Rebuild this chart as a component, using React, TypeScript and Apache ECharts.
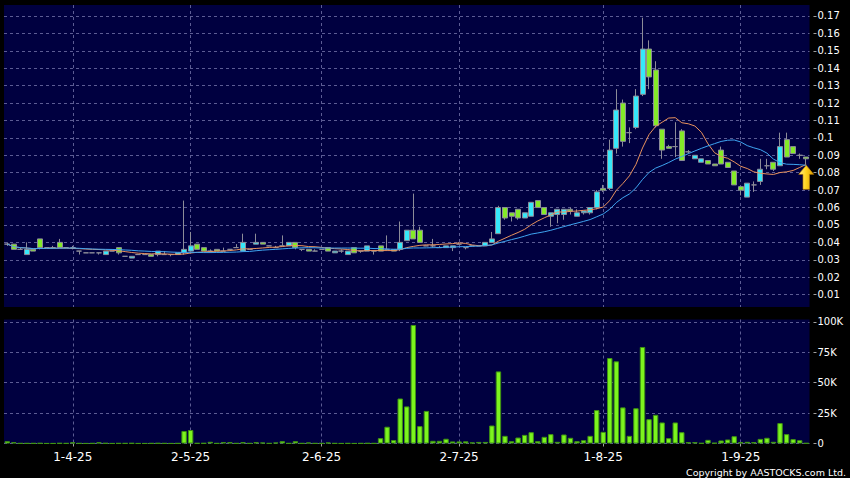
import React, { useEffect, useRef } from 'react';
import * as echarts from 'echarts';

const dates = [
  '18-3-25','19-3-25','20-3-25','21-3-25','24-3-25','25-3-25','26-3-25','27-3-25','28-3-25','31-3-25',
  '1-4-25','2-4-25','3-4-25','7-4-25','8-4-25','9-4-25','10-4-25','11-4-25','14-4-25','15-4-25',
  '16-4-25','17-4-25','22-4-25','23-4-25','24-4-25','25-4-25','28-4-25','30-4-25','2-5-25','6-5-25',
  '7-5-25','8-5-25','9-5-25','12-5-25','13-5-25','14-5-25','15-5-25','16-5-25','19-5-25','20-5-25',
  '21-5-25','22-5-25','23-5-25','26-5-25','27-5-25','28-5-25','29-5-25','30-5-25','2-6-25','3-6-25',
  '4-6-25','5-6-25','6-6-25','9-6-25','10-6-25','11-6-25','12-6-25','13-6-25','16-6-25','17-6-25',
  '18-6-25','19-6-25','20-6-25','23-6-25','24-6-25','25-6-25','26-6-25','27-6-25','30-6-25','2-7-25',
  '3-7-25','4-7-25','7-7-25','8-7-25','9-7-25','10-7-25','11-7-25','14-7-25','15-7-25','16-7-25',
  '17-7-25','18-7-25','21-7-25','22-7-25','23-7-25','24-7-25','25-7-25','28-7-25','29-7-25','30-7-25',
  '31-7-25','1-8-25','4-8-25','5-8-25','6-8-25','7-8-25','8-8-25','11-8-25','12-8-25','13-8-25',
  '14-8-25','15-8-25','18-8-25','19-8-25','20-8-25','21-8-25','22-8-25','25-8-25','26-8-25','27-8-25',
  '28-8-25','29-8-25','1-9-25','2-9-25','3-9-25','4-9-25','5-9-25','8-9-25','9-9-25','10-9-25',
  '11-9-25','12-9-25','15-9-25',
];

const tickLabels = ['1-4-25', '2-5-25', '2-6-25', '2-7-25', '1-8-25', '1-9-25'];

const opens = [
  0.039,0.039,0.036,0.033,0.036,0.042,0.037,0.037,0.040,0.037,
  0.037,0.035,0.034,0.034,0.034,0.033,0.035,0.037,0.032,0.031,
  0.033,0.033,0.033,0.033,0.033,0.033,0.033,0.034,0.035,0.039,
  0.037,0.035,0.036,0.035,0.036,0.037,0.035,0.036,0.039,0.040,
  0.038,0.037,0.038,0.038,0.040,0.036,0.036,0.035,0.036,0.037,
  0.034,0.035,0.033,0.037,0.035,0.035,0.035,0.038,0.036,0.036,
  0.036,0.041,0.047,0.047,0.038,0.038,0.037,0.037,0.037,0.039,
  0.037,0.038,0.038,0.038,0.040,0.045,0.060,0.057,0.059,0.054,
  0.055,0.064,0.060,0.055,0.056,0.056,0.059,0.055,0.057,0.057,
  0.060,0.071,0.071,0.094,0.120,0.103,0.106,0.125,0.151,0.139,
  0.105,0.095,0.095,0.104,0.092,0.088,0.086,0.087,0.085,0.093,
  0.086,0.081,0.072,0.066,0.073,0.075,0.084,0.086,0.084,0.099,
  0.095,0.090,0.089,
];

const highs = [
  0.040,0.039,0.037,0.040,0.036,0.042,0.037,0.038,0.042,0.037,
  0.038,0.035,0.034,0.034,0.034,0.035,0.035,0.037,0.032,0.032,
  0.033,0.033,0.033,0.035,0.035,0.033,0.034,0.064,0.046,0.039,
  0.037,0.036,0.036,0.037,0.036,0.039,0.045,0.036,0.045,0.040,
  0.038,0.038,0.044,0.040,0.040,0.036,0.036,0.036,0.036,0.037,
  0.035,0.036,0.035,0.037,0.035,0.038,0.035,0.038,0.044,0.036,
  0.052,0.047,0.068,0.049,0.038,0.042,0.038,0.038,0.038,0.040,
  0.037,0.038,0.038,0.040,0.046,0.061,0.060,0.057,0.059,0.057,
  0.063,0.064,0.060,0.057,0.059,0.059,0.060,0.059,0.058,0.060,
  0.070,0.073,0.099,0.128,0.122,0.106,0.128,0.169,0.156,0.144,
  0.105,0.096,0.109,0.105,0.093,0.090,0.088,0.087,0.085,0.095,
  0.086,0.081,0.072,0.074,0.075,0.088,0.088,0.086,0.103,0.103,
  0.095,0.091,0.089,
];

const lows = [
  0.038,0.036,0.036,0.033,0.035,0.036,0.037,0.037,0.037,0.037,
  0.036,0.033,0.034,0.034,0.033,0.033,0.035,0.033,0.032,0.031,
  0.033,0.033,0.032,0.032,0.033,0.032,0.033,0.033,0.035,0.036,
  0.035,0.034,0.035,0.035,0.036,0.037,0.035,0.036,0.039,0.039,
  0.038,0.037,0.038,0.038,0.036,0.035,0.035,0.035,0.036,0.035,
  0.034,0.034,0.033,0.034,0.034,0.035,0.033,0.035,0.036,0.035,
  0.035,0.041,0.042,0.040,0.038,0.037,0.037,0.037,0.035,0.039,
  0.036,0.038,0.038,0.038,0.040,0.045,0.053,0.052,0.053,0.054,
  0.055,0.060,0.056,0.049,0.051,0.053,0.056,0.055,0.056,0.056,
  0.059,0.069,0.070,0.091,0.095,0.097,0.105,0.124,0.128,0.106,
  0.088,0.094,0.089,0.087,0.091,0.088,0.086,0.085,0.084,0.085,
  0.083,0.073,0.067,0.066,0.069,0.073,0.082,0.081,0.084,0.089,
  0.091,0.088,0.085,
];

const closes = [
  0.039,0.036,0.036,0.036,0.035,0.037,0.037,0.037,0.037,0.037,
  0.037,0.035,0.034,0.034,0.034,0.035,0.035,0.034,0.032,0.032,
  0.033,0.033,0.032,0.035,0.033,0.033,0.034,0.036,0.038,0.036,
  0.035,0.035,0.035,0.035,0.036,0.037,0.040,0.036,0.040,0.039,
  0.038,0.037,0.038,0.040,0.037,0.036,0.035,0.035,0.036,0.035,
  0.035,0.035,0.035,0.034,0.035,0.038,0.035,0.035,0.036,0.035,
  0.040,0.047,0.042,0.040,0.038,0.038,0.037,0.038,0.038,0.039,
  0.037,0.038,0.038,0.040,0.042,0.060,0.054,0.055,0.054,0.057,
  0.063,0.060,0.056,0.057,0.059,0.059,0.058,0.057,0.058,0.060,
  0.069,0.070,0.093,0.116,0.098,0.103,0.124,0.151,0.135,0.107,
  0.093,0.094,0.095,0.087,0.092,0.090,0.088,0.085,0.084,0.085,
  0.083,0.073,0.070,0.074,0.073,0.082,0.084,0.082,0.095,0.089,
  0.091,0.090,0.088,
];

const volumes = [
  1900,1100,200,200,200,300,100,100,300,200,
  1000,200,100,200,1000,300,100,200,200,300,
  100,100,200,300,200,100,200,10300,11100,300,
  300,1400,200,1100,1100,200,1100,200,1100,800,
  200,800,1900,200,1900,200,800,200,200,800,
  200,100,200,100,200,300,200,4400,13800,2800,
  37000,30500,97500,14300,26800,2200,2200,3900,1700,1700,
  1800,900,1300,1300,14800,59300,6300,1900,4900,7100,
  9300,1900,5500,7700,1400,7400,4700,1900,2700,6300,
  27500,9600,70300,67600,29700,6300,29000,79400,20000,23600,
  17300,4400,17300,9300,1100,1100,300,3000,500,2500,
  3300,6000,1100,1400,1100,3800,4700,1400,16800,7700,
  3600,2700,300,
];

const priceTicks = [0.01,0.02,0.03,0.04,0.05,0.06,0.07,0.08,0.09,0.1,0.11,0.12,0.13,0.14,0.15,0.16,0.17];
const volumeTicks = [0, 25000, 50000, 75000, 100000];
const maShortDays = 10;
const maLongDays = 20;

function movingAverage(values: number[], n: number): number[] {
  return values.map((_, i) => {
    const start = Math.max(0, i - n + 1);
    const win = values.slice(start, i + 1);
    return +(win.reduce((a, b) => a + b, 0) / win.length).toFixed(5);
  });
}

const FONT = 'DejaVu Sans';

export default function App() {
  const ref = useRef<HTMLDivElement>(null);

  useEffect(() => {
    if (!ref.current) return;
    const chart = echarts.init(ref.current, undefined, { renderer: 'svg' });

    const candleData = opens.map((o, i) => [o, closes[i], lows[i], highs[i]]);
    const maShort = movingAverage(closes, maShortDays);
    const maLong = movingAverage(closes, maLongDays);
    const isTick = (_i: number, v: string) => tickLabels.includes(v);
    const splitStyle = { color: '#5c5c94', type: [3, 3] as number[], width: 1 };
    const gridBg = '#000040';

    const option: any = {
      animation: false,
      backgroundColor: '#000000',
      textStyle: { fontFamily: FONT },
      grid: [
        { left: 4, right: 40.5, top: 5, height: 302, show: true, backgroundColor: gridBg, borderWidth: 0 },
        { left: 4, right: 40.5, top: 319.5, height: 124, show: true, backgroundColor: gridBg, borderWidth: 0 },
      ],
      xAxis: [
        {
          type: 'category', gridIndex: 0, data: dates, boundaryGap: true,
          axisLine: { show: false }, axisTick: { show: false }, axisLabel: { show: false },
          splitLine: { show: true, alignWithLabel: true, interval: isTick, lineStyle: splitStyle },
        },
        {
          type: 'category', gridIndex: 1, data: dates, boundaryGap: true, offset: 3,
          axisLine: { show: false },
          axisTick: { show: true, alignWithLabel: true, interval: isTick, length: 3, lineStyle: { color: '#a0a0a0' } },
          axisLabel: { interval: isTick, color: '#ffffff', fontSize: 12, margin: 4, fontFamily: FONT },
          splitLine: { show: true, alignWithLabel: true, interval: isTick, lineStyle: splitStyle },
        },
      ],
      yAxis: [
        {
          type: 'value', gridIndex: 0, position: 'right', min: 0.0029, max: 0.1763,
          splitNumber: 17, minInterval: 0.01, maxInterval: 0.01, offset: 4,
          axisLine: { show: false },
          axisTick: { show: true, length: 3, customValues: priceTicks, lineStyle: { color: '#a0a0a0' } },
          axisLabel: {
            customValues: priceTicks, color: '#ffffff', fontSize: 10, margin: 4, fontFamily: FONT,
            formatter: (v: number) => String(+v.toFixed(3)),
          },
          splitLine: { show: true, lineStyle: splitStyle },
        },
        {
          type: 'value', gridIndex: 1, position: 'right', min: 0, max: 102000,
          minInterval: 25000, maxInterval: 25000, offset: 4,
          axisLine: { show: false },
          axisTick: { show: true, length: 3, customValues: volumeTicks, lineStyle: { color: '#a0a0a0' } },
          axisLabel: {
            customValues: volumeTicks, color: '#ffffff', fontSize: 10, margin: 4, fontFamily: FONT,
            formatter: (v: number) => (v === 0 ? '0' : v / 1000 + 'K'),
          },
          splitLine: { show: true, lineStyle: splitStyle },
        },
      ],
      series: [
        {
          type: 'candlestick', xAxisIndex: 0, yAxisIndex: 0, data: candleData, barWidth: 5.5,
          itemStyle: { color: '#36e8fa', color0: '#84ea28', borderColor: '#8c8c98', borderColor0: '#8c8c98', borderWidth: 1 },
          markPoint: {
            silent: true,
            data: [{
              coord: [dates[dates.length - 1], maShort[maShort.length - 1]],
              symbol: 'path://M7,0 L14,9 L10,9 L10,24 L4,24 L4,9 L0,9 Z',
              symbolSize: [15, 24],
              symbolOffset: [0, 13],
              symbolKeepAspect: false,
              label: { show: false },
              itemStyle: {
                color: new echarts.graphic.LinearGradient(0, 0, 1, 0, [
                  { offset: 0, color: '#fff08a' },
                  { offset: 0.5, color: '#ffd21e' },
                  { offset: 1, color: '#d89a00' },
                ]),
                borderColor: '#c88400', borderWidth: 0.6,
              },
            }],
          },
        },
        {
          type: 'line', xAxisIndex: 0, yAxisIndex: 0, data: maShort, symbol: 'none',
          lineStyle: { color: '#e8925e', width: 1 }, silent: true,
        },
        {
          type: 'line', xAxisIndex: 0, yAxisIndex: 0, data: maLong, symbol: 'none',
          lineStyle: { color: '#3ea4f0', width: 1 }, silent: true,
        },
        {
          type: 'bar', xAxisIndex: 1, yAxisIndex: 1, data: volumes, barWidth: 5.4,
          itemStyle: { color: '#7cf41e', borderColor: '#3f9412', borderWidth: 1 },
        },
      ],
      graphic: [
        {
          type: 'text', x: 846, y: 472,
          style: {
            text: 'Copyright by AASTOCKS.com Ltd.', fill: '#ffffff',
            fontSize: 9.5, fontFamily: FONT, align: 'right', verticalAlign: 'middle',
          },
        },
      ],
    };

    chart.setOption(option);
    return () => chart.dispose();
  }, []);

  return (
    <div
      ref={ref}
      style={{ position: 'fixed', left: 0, top: 0, width: 850, height: 478 }}
    />
  );
}
